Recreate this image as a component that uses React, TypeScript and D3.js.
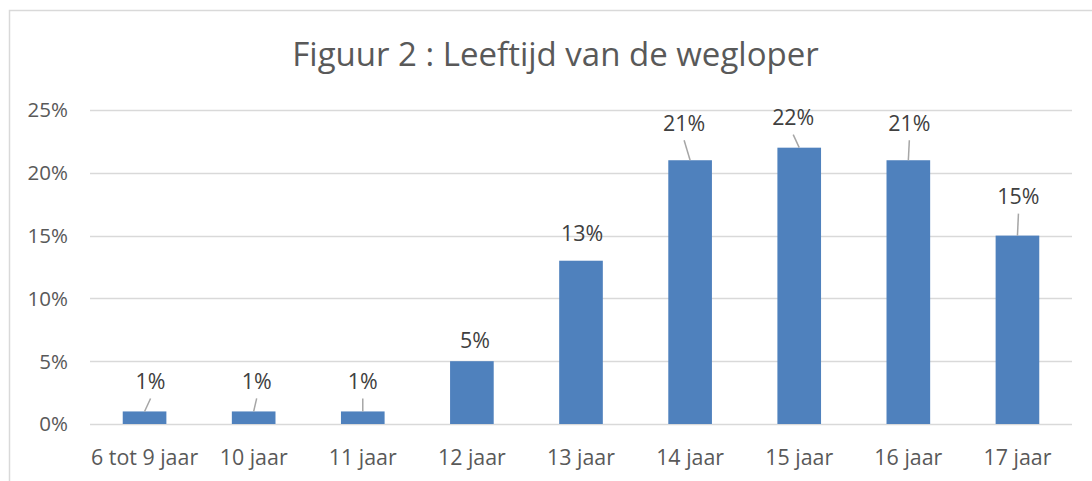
import React, {Component} from 'react';
import * as d3 from "d3"

// chart data
const categories = ["6 tot 9 jaar", "10 jaar", "11 jaar", "12 jaar", "13 jaar", "14 jaar", "15 jaar", "16 jaar", "17 jaar"]
const values = [1, 1, 1, 5, 13, 21, 22, 21, 15]
const yTicks = [0, 5, 10, 15, 20, 25]
const title = "Figuur 2 : Leeftijd van de wegloper"

// where each data label was dragged to (px from the bar top centre)
const labelDx = [6, 3, 0, 3, 1, -6, -6, 1, 1]
const labelDy = [30, 30, 30, 21, 27, 37, 30, 37, 39]

interface ChartProps {}
interface ChartState {}

class App extends Component<ChartProps, ChartState> {
    renderChart() {
      const width = 1092
      const height = 481
      const margin = ({top: 110, right: 20, bottom: 57, left: 90})
      const font = "'Open Sans', 'Noto Sans', sans-serif"
      const textColor = "#595959"

      const svg = d3.select("#chart").append("svg")
        .attr("width", width).attr("height", height)
        .style("position", "absolute").style("left", 0).style("top", 0)
        .style("font-family", font)

      svg.append("rect").attr("width", width).attr("height", height).attr("fill", "#fff")

      // outer chart frame (right / bottom edges fall outside the picture)
      svg.append("rect")
        .attr("x", 9.5).attr("y", 10.5)
        .attr("width", 1092).attr("height", 490)
        .attr("fill", "none").attr("stroke", "#d9d9d9").attr("stroke-width", 1.5)

      let x = d3.scaleBand()
        .domain(categories)
        .range([margin.left, 1072])
        .paddingInner(0.6)
        .paddingOuter(0.3)

      let y = d3.scaleLinear()
        .domain([0, 25])
        .range([424, margin.top])

      // gridlines
      svg.append("g")
        .selectAll("line")
        .data(yTicks)
        .join("line")
          .attr("x1", margin.left).attr("x2", 1072)
          .attr("y1", d => Math.round(y(d)) + 0.5).attr("y2", d => Math.round(y(d)) + 0.5)
          .attr("stroke", "#d9d9d9").attr("stroke-width", 1.5)

      // y tick labels
      svg.append("g")
        .selectAll("text")
        .data(yTicks)
        .join("text")
          .attr("x", 68).attr("y", d => y(d))
          .attr("dy", "0.36em")
          .attr("text-anchor", "end")
          .attr("font-size", 20.5)
          .attr("fill", textColor)
          .text(d => d + "%")

      // bars
      svg.append("g")
        .attr("fill", "#4f81bd")
        .selectAll("rect")
        .data(values)
        .join("rect")
          .attr("x", (d, i) => x(categories[i]) as number)
          .attr("y", d => y(d))
          .attr("width", x.bandwidth())
          .attr("height", d => y(0) - y(d))

      // x labels
      svg.append("g")
        .selectAll("text")
        .data(categories)
        .join("text")
          .attr("x", d => (x(d) as number) + x.bandwidth() / 2)
          .attr("y", 457)
          .attr("dy", "0.36em")
          .attr("text-anchor", "middle")
          .attr("font-size", 21.4)
          .attr("fill", textColor)
          .text(d => d)

      const cx = (i: number) => (x(categories[i]) as number) + x.bandwidth() / 2

      // leader lines for labels that sit away from their bar
      svg.append("g")
        .selectAll("line")
        .data(values.map((v, i) => i).filter(i => labelDy[i] > 29))
        .join("line")
          .attr("x1", i => cx(i)).attr("y1", i => y(values[i]))
          .attr("x2", i => cx(i) + labelDx[i]).attr("y2", i => y(values[i]) - labelDy[i] + 17)
          .attr("stroke", "#a6a6a6").attr("stroke-width", 1.5)

      // data labels
      svg.append("g")
        .selectAll("text")
        .data(values)
        .join("text")
          .attr("x", (d, i) => cx(i) + labelDx[i])
          .attr("y", (d, i) => y(d) - labelDy[i])
          .attr("dy", "0.36em")
          .attr("text-anchor", "middle")
          .attr("font-size", 21.4)
          .attr("fill", "#404040")
          .text(d => d + "%")

      // title
      svg.append("text")
        .attr("x", 555.5).attr("y", 66)
        .attr("text-anchor", "middle")
        .attr("font-size", 33)
        .attr("fill", textColor)
        .text(title)
    }

    componentDidMount() {
      if (!document.querySelector("#chart svg")) this.renderChart()
    }

    public render(): JSX.Element {
        return (
            <div id='chart' style={{width: 1092, height: 481}}></div>
       )
    }
}
export default App;
